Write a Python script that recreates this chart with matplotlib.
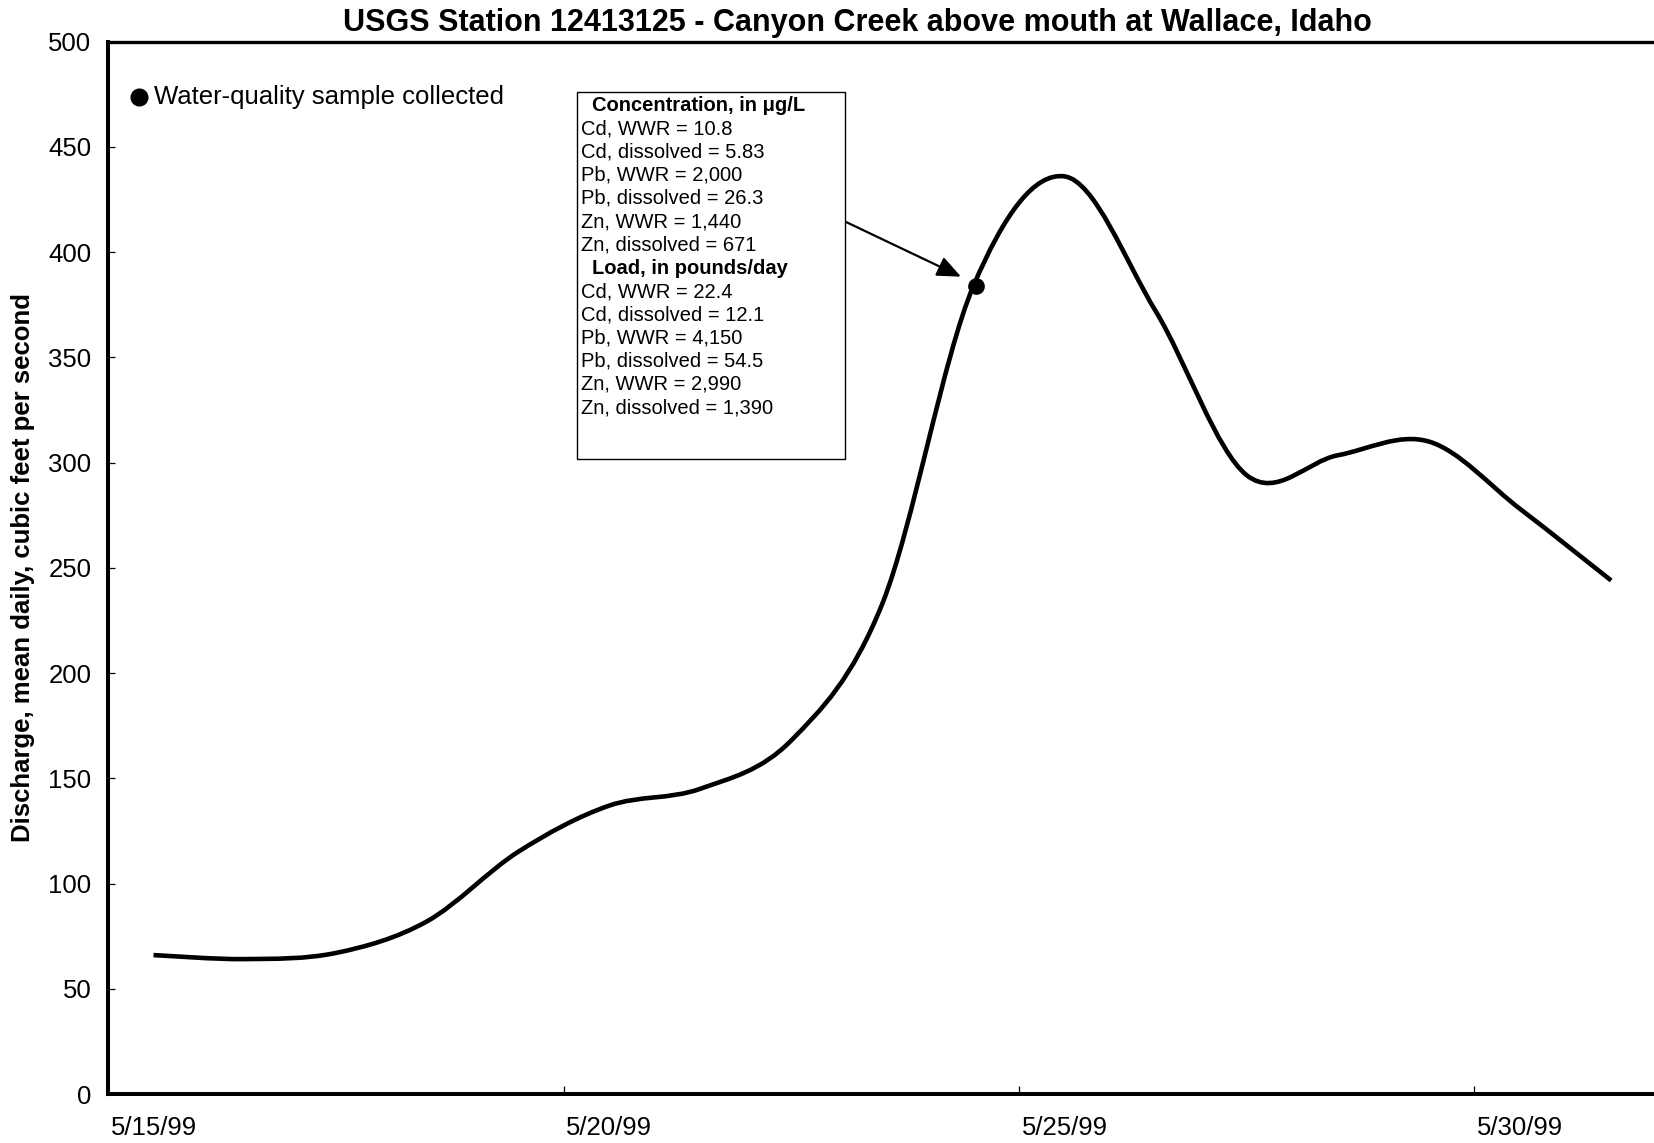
import matplotlib
matplotlib.use("Agg")
import matplotlib.pyplot as plt
from matplotlib.path import Path
from matplotlib.patches import PathPatch, Rectangle
from matplotlib.lines import Line2D

plt.rcParams['font.family'] = ['Liberation Sans', 'DejaVu Sans']

# ---- data ----
dates = ['5/15/99', '5/16/99', '5/17/99', '5/18/99', '5/19/99', '5/20/99',
         '5/21/99', '5/22/99', '5/23/99', '5/24/99', '5/25/99', '5/26/99',
         '5/27/99', '5/28/99', '5/29/99', '5/30/99', '5/31/99']
discharge = [66.0, 64.1, 67.0, 82.0, 115.0, 137.0, 145.0, 168.0, 233.0,
             384.0, 436.0, 372.0, 294.0, 303.5, 310.0, 278.0, 244.0]
sample_date = '5/24/99'
sample_value = 384.0
xtick_labels = ['5/15/99', '5/20/99', '5/25/99', '5/30/99']
yticks = [0, 50, 100, 150, 200, 250, 300, 350, 400, 450, 500]
conc_lines = ['Cd, WWR = 10.8', 'Cd, dissolved = 5.83', 'Pb, WWR = 2,000',
              'Pb, dissolved = 26.3', 'Zn, WWR = 1,440', 'Zn, dissolved = 671']
load_lines = ['Cd, WWR = 22.4', 'Cd, dissolved = 12.1', 'Pb, WWR = 4,150',
              'Pb, dissolved = 54.5', 'Zn, WWR = 2,990', 'Zn, dissolved = 1,390']

W, H = 1654, 1143
fig = plt.figure(figsize=(W / 100, H / 100), dpi=100)

def fp(x, y):
    return (x / W, 1 - y / H)

ax_left, ax_right = 108, 1656.7
ax_top, ax_bot = 41.7, 1094
ax = fig.add_axes([ax_left / W, 1 - ax_bot / H, (ax_right - ax_left) / W, (ax_bot - ax_top) / H])

xs = list(range(len(dates)))
ax.set_xlim(-0.5, len(dates) - 0.5)
ax.set_ylim(0, 500)

# smoothed line (Excel-style Bezier through daily values)
pts = list(zip(xs, discharge))
verts = [pts[0]]
codes = [Path.MOVETO]
n = len(pts)
for i in range(n - 1):
    p0 = pts[i - 1] if i > 0 else pts[i]
    p1 = pts[i]
    p2 = pts[i + 1]
    p3 = pts[i + 2] if i + 2 < n else pts[i + 1]
    c1 = (p1[0] + (p2[0] - p0[0]) / 6, p1[1] + (p2[1] - p0[1]) / 6)
    c2 = (p2[0] - (p3[0] - p1[0]) / 6, p2[1] - (p3[1] - p1[1]) / 6)
    verts += [c1, c2, p2]
    codes += [Path.CURVE4] * 3
ax.add_patch(PathPatch(Path(verts, codes), fill=False, lw=3.3, edgecolor='black',
                       capstyle='butt', joinstyle='round'))

sx = dates.index(sample_date)
ax.plot([sx + 0.03], [sample_value], 'o', color='black', markersize=11, zorder=5)

# spines
for s in ['left', 'bottom']:
    ax.spines[s].set_linewidth(2.9)
ax.spines['top'].set_linewidth(2.4)
ax.spines['right'].set_visible(False)

# ticks
ax.set_yticks(yticks)
ax.set_yticklabels([str(v) for v in yticks])
ax.tick_params(axis='y', direction='in', length=5, width=0.9, labelsize=18.5, pad=12)
label_pos = [dates.index(d) for d in xtick_labels]
ax.set_xticks(label_pos)
ax.set_xticklabels(xtick_labels)
ax.tick_params(axis='x', which='major', length=0, labelsize=18.5, pad=16)
ax.set_xticks([p - 0.5 for p in label_pos[1:]], minor=True)
ax.tick_params(axis='x', which='minor', direction='in', length=6, width=0.9)

# title and y label
fig.text(*fp(857.6, 23), 'USGS Station 12413125 - Canyon Creek above mouth at Wallace, Idaho',
         ha='center', va='center', fontsize=22, fontweight='bold')
fig.text(*fp(23, 567), 'Discharge, mean daily, cubic feet per second', rotation=90,
         ha='center', va='center', fontsize=18.5, fontweight='bold')

# legend
fig.add_artist(Line2D([139.2 / W], [1 - 97 / H], marker='o', color='black',
                      markersize=12, linestyle='none', transform=fig.transFigure))
fig.text(*fp(154, 97), 'Water-quality sample collected', ha='left', va='center', fontsize=18.5)

# annotation box
bx0, by0, bx1, by1 = 576.7, 91.5, 845, 459.3
fig.add_artist(Rectangle(fp(bx0, by1), (bx1 - bx0) / W, (by1 - by0) / H,
                         transform=fig.transFigure, fill=True, facecolor='white',
                         edgecolor='black', lw=1.0, zorder=3))
y = 105.5
step = 23.25
fig.text(*fp(591.7, y), 'Concentration, in μg/L', ha='left', va='center', fontsize=14.5,
         fontweight='bold', zorder=4)
for line in conc_lines:
    y += step
    fig.text(*fp(581.2, y), line, ha='left', va='center', fontsize=14.5, zorder=4)
y += step
fig.text(*fp(591.7, y), 'Load, in pounds/day', ha='left', va='center', fontsize=14.5,
         fontweight='bold', zorder=4)
for line in load_lines:
    y += step
    fig.text(*fp(581.2, y), line, ha='left', va='center', fontsize=14.5, zorder=4)

# arrow
ax.annotate('', xy=fp(961, 276.7), xycoords='figure fraction',
            xytext=fp(845, 221.5), textcoords='figure fraction',
            arrowprops=dict(arrowstyle='-|>,head_length=1.45,head_width=0.62',
                            mutation_scale=10, lw=1.6, color='black',
                            shrinkA=0, shrinkB=0))

fig.savefig('out.png', dpi=100, facecolor='white')
